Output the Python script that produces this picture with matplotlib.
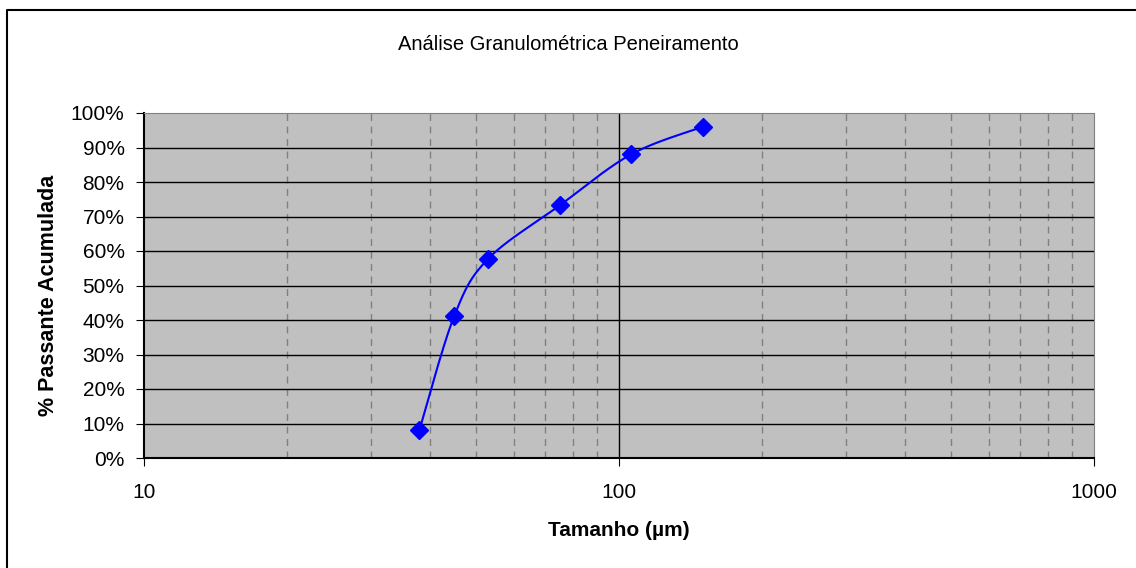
import numpy as np
import matplotlib.pyplot as plt
from matplotlib.ticker import FixedLocator, NullFormatter, PercentFormatter
from matplotlib.lines import Line2D

plt.rcParams['font.family'] = ['Liberation Sans', 'DejaVu Sans']

# Sieve data
tamanho = [38, 45, 53, 75, 106, 150]
passante = [8.1, 41.2, 57.7, 73.2, 88.0, 96.0]


def smooth(xs, ys, n=30):
    # Catmull-Rom style smoothing in log-x space (like Excel smoothed line)
    lx = np.log10(xs)
    y = np.asarray(ys, float)
    px = np.concatenate([[lx[0]], lx, [lx[-1]]])
    py = np.concatenate([[y[0]], y, [y[-1]]])
    ox, oy = [], []
    for i in range(1, len(px) - 2):
        p0, p1, p2, p3 = px[i - 1], px[i], px[i + 1], px[i + 2]
        q0, q1, q2, q3 = py[i - 1], py[i], py[i + 1], py[i + 2]
        c1x, c1y = p1 + (p2 - p0) / 6, q1 + (q2 - q0) / 6
        c2x, c2y = p2 - (p3 - p1) / 6, q2 - (q3 - q1) / 6
        t = np.linspace(0, 1, n)
        bx = (1 - t) ** 3 * p1 + 3 * (1 - t) ** 2 * t * c1x + 3 * (1 - t) * t ** 2 * c2x + t ** 3 * p2
        by = (1 - t) ** 3 * q1 + 3 * (1 - t) ** 2 * t * c1y + 3 * (1 - t) * t ** 2 * c2y + t ** 3 * q2
        ox.extend(bx)
        oy.extend(by)
    return 10 ** np.array(ox), np.array(oy)


fig = plt.figure(figsize=(11.36, 5.68), dpi=100)
ax = fig.add_axes([144 / 1136, 1 - 458 / 568, (1094 - 144) / 1136, (458 - 113) / 568])
ax.set_facecolor('#C0C0C0')

ax.set_xscale('log')
ax.set_xlim(10, 1000)
ax.set_ylim(0, 100)

# gridlines
minor = [v * d for d in (10, 100) for v in range(2, 10)]
for v in minor:
    ax.axvline(v, color='#808080', lw=1, ls=(0, (5, 4)), zorder=1)
ax.axvline(100, color='black', lw=1, zorder=1)
for v in range(10, 100, 10):
    ax.axhline(v, color='black', lw=1, zorder=1)

sx, sy = smooth(tamanho, passante)
ax.plot(sx, sy, color='blue', lw=1.5, zorder=3)
ax.plot(tamanho, passante, ls='none', marker='D', ms=9, color='blue', zorder=4)

ax.set_yticks(range(0, 101, 10))
ax.yaxis.set_major_formatter(PercentFormatter(decimals=0))
ax.xaxis.set_major_locator(FixedLocator([10, 100, 1000]))
ax.xaxis.set_major_formatter(plt.FuncFormatter(lambda v, p: f'{int(v)}'))
ax.xaxis.set_minor_locator(FixedLocator(minor))
ax.xaxis.set_minor_formatter(NullFormatter())
ax.tick_params(axis='both', which='major', direction='out', length=6, labelsize=15, colors='black')
ax.tick_params(axis='y', which='major', pad=8)
ax.tick_params(axis='x', which='major', pad=12)
ax.tick_params(axis='x', which='minor', length=0)

for s in ('top', 'right'):
    ax.spines[s].set_color('#808080')
for s in ('left', 'bottom'):
    ax.spines[s].set_color('black')
    ax.spines[s].set_linewidth(1.5)

ax.set_xlabel('Tamanho (µm)', fontsize=15, fontweight='bold')
ax.set_ylabel('% Passante Acumulada', fontsize=15.5, fontweight='bold')
ax.xaxis.set_label_coords(0.5, -(531 - 458) / 345)
ax.yaxis.set_label_coords(-(144 - 49) / 950, (458 - 295) / 345)
ax.xaxis.label.set_va('center')
ax.yaxis.label.set_va('center')
fig.text(0.5, 1 - 45 / 568, 'Análise Granulométrica Peneiramento', ha='center', va='center', fontsize=14.5)

# chart border (cropped: only top and left edges visible)
fig.add_artist(Line2D([7 / 1136, 7 / 1136, 1], [0, 1 - 10 / 568, 1 - 10 / 568],
                      transform=fig.transFigure, color='black', lw=1.5))

fig.savefig('out.png', dpi=100)
